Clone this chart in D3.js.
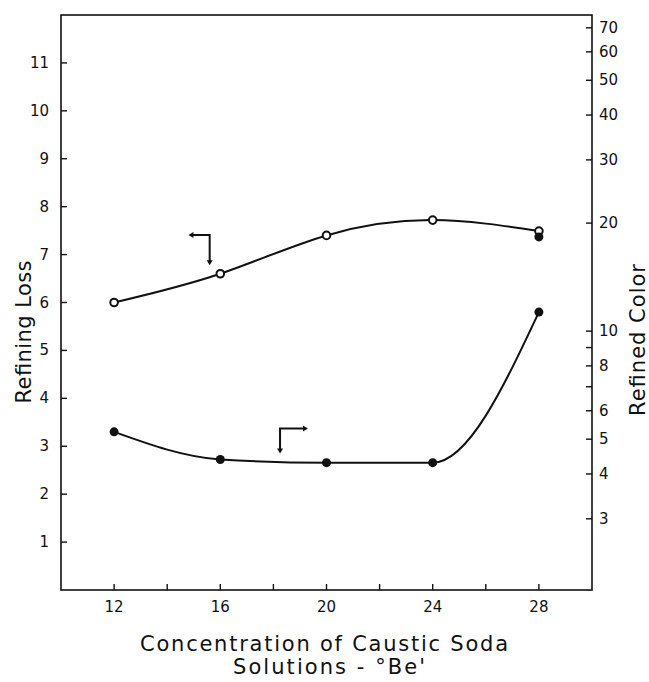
<!DOCTYPE html>
<head>
    <meta charset="utf-8">
    <script src="https://cdn.jsdelivr.net/npm/d3@7"></script>
</head>
<style>
    body { margin: 0; background: #fff; }
    svg text { font-family: "DejaVu Sans", sans-serif; fill: #111; }
    .tick-label { font-size: 15px; }
    .title { font-size: 21px; }
    .domain-line { stroke: #111; stroke-width: 1.6px; fill: none; }
    .tick { stroke: #111; stroke-width: 1.4px; }
    .curve { fill: none; stroke: #111; stroke-width: 2px; }
</style>
<body>
<svg id="chart" width="649" height="682"></svg>
<script>

    // concentration of caustic soda, °Be'
    var concentration = [12, 16, 20, 24, 28];
    // refining loss (left axis, open circles)
    var refiningLoss = [6.0, 6.6, 7.4, 7.72, 7.49];
    // refined color (right axis, log, filled circles)
    var refinedColor = [5.24, 4.39, 4.3, 4.3, 11.3];
    // stray filled dot printed just under the last open circle
    var extraColor = [{x: 28, y: 18.3}];

    var xTicks = [12, 14, 16, 18, 20, 22, 24, 26, 28];
    var xLabels = [12, 16, 20, 24, 28];
    var leftTicks = [1, 2, 3, 4, 5, 6, 7, 8, 9, 10, 11];
    var rightTicks = [3, 4, 5, 6, 7, 8, 9, 10, 20, 30, 40, 50, 60, 70];
    var rightLabels = [3, 4, 5, 6, 8, 10, 20, 30, 40, 50, 60, 70];

    var svg = d3.select("#chart");
    var margin = {left: 61, right: 57, top: 15, bottom: 92};
    var W = 649, H = 682;

    var x = d3.scaleLinear().domain([10, 30]).range([margin.left, W - margin.right]);
    var yL = d3.scaleLinear().domain([0, 12]).range([H - margin.bottom, margin.top]);
    var yR = d3.scaleLog().domain([1.9, 76]).range([H - margin.bottom, margin.top]);

    var x0 = x.range()[0], x1 = x.range()[1];
    var y0 = yL.range()[0], y1 = yL.range()[1];

    // frame
    svg.append("rect")
        .attr("class", "domain-line")
        .attr("x", x0).attr("y", y1)
        .attr("width", x1 - x0).attr("height", y0 - y1);

    // bottom ticks (inward)
    svg.selectAll(".xt").data(xTicks).enter().append("line")
        .attr("class", "tick")
        .attr("x1", x).attr("x2", x)
        .attr("y1", y0).attr("y2", y0 - 6);
    svg.selectAll(".xl").data(xLabels).enter().append("text")
        .attr("class", "tick-label")
        .attr("x", x).attr("y", y0 + 22)
        .attr("text-anchor", "middle")
        .text(function (d) { return d; });

    // left ticks
    svg.selectAll(".lt").data(leftTicks).enter().append("line")
        .attr("class", "tick")
        .attr("x1", x0).attr("x2", x0 + 6)
        .attr("y1", yL).attr("y2", yL);
    svg.selectAll(".ll").data(leftTicks).enter().append("text")
        .attr("class", "tick-label")
        .attr("x", x0 - 12).attr("y", function (d) { return yL(d) + 5; })
        .attr("text-anchor", "end")
        .text(function (d) { return d; });

    // right ticks (log)
    svg.selectAll(".rt").data(rightTicks).enter().append("line")
        .attr("class", "tick")
        .attr("x1", x1).attr("x2", x1 - 6)
        .attr("y1", yR).attr("y2", yR);
    svg.selectAll(".rl").data(rightLabels).enter().append("text")
        .attr("class", "tick-label")
        .attr("x", x1 + 7).attr("y", function (d) { return yR(d) + 5; })
        .attr("text-anchor", "start")
        .text(function (d) { return d; });

    // curves
    var lossPts = concentration.map(function (c, i) { return [x(c), yL(refiningLoss[i])]; });
    var colorPts = concentration.map(function (c, i) { return [x(c), yR(refinedColor[i])]; });

    svg.append("path").attr("class", "curve")
        .attr("d", d3.line().curve(d3.curveNatural)(lossPts));
    svg.append("path").attr("class", "curve")
        .attr("d", d3.line().curve(d3.curveMonotoneX)(colorPts));

    svg.selectAll(".open").data(lossPts).enter().append("circle")
        .attr("cx", function (d) { return d[0]; })
        .attr("cy", function (d) { return d[1]; })
        .attr("r", 3.8)
        .attr("fill", "#fff").attr("stroke", "#111").attr("stroke-width", 2);

    svg.selectAll(".filled").data(colorPts.concat(extraColor.map(function (d) { return [x(d.x), yR(d.y)]; })))
        .enter().append("circle")
        .attr("cx", function (d) { return d[0]; })
        .attr("cy", function (d) { return d[1]; })
        .attr("r", 4.5)
        .attr("fill", "#111");

    // axis-pointer arrows
    function arrowHead(px, py, dir) {
        var s = 5, pts;
        if (dir === "left") pts = [[px, py], [px + s, py - s * 0.6], [px + s, py + s * 0.6]];
        if (dir === "right") pts = [[px, py], [px - s, py - s * 0.6], [px - s, py + s * 0.6]];
        if (dir === "down") pts = [[px, py], [px - s * 0.6, py - s], [px + s * 0.6, py - s]];
        svg.append("polygon").attr("points", pts.join(" ")).attr("fill", "#111");
    }

    var a1 = {xa: 14.8, xb: 15.6, ya: 7.41, yb: 6.78};
    svg.append("path").attr("class", "curve").attr("stroke-width", 1.6)
        .attr("d", d3.line()([[x(a1.xa) + 3, yL(a1.ya)], [x(a1.xb), yL(a1.ya)], [x(a1.xb), yL(a1.yb) - 3]]));
    arrowHead(x(a1.xa), yL(a1.ya), "left");
    arrowHead(x(a1.xb), yL(a1.yb), "down");

    var a2 = {xa: 18.25, xb: 19.3, ya: 3.37, yb: 2.85};
    svg.append("path").attr("class", "curve").attr("stroke-width", 1.6)
        .attr("d", d3.line()([[x(a2.xa), yL(a2.yb) - 3], [x(a2.xa), yL(a2.ya)], [x(a2.xb) - 3, yL(a2.ya)]]));
    arrowHead(x(a2.xb), yL(a2.ya), "right");
    arrowHead(x(a2.xa), yL(a2.yb), "down");

    // titles (stretched to the printed widths)
    function title(tx, ty, rot, str, len) {
        svg.append("text").attr("class", "title")
            .attr("transform", "translate(" + tx + "," + ty + ")" + (rot ? " rotate(-90)" : ""))
            .attr("text-anchor", "middle")
            .attr("textLength", len)
            .attr("lengthAdjust", "spacing")
            .text(str);
    }
    title(31, 332, true, "Refining Loss", 143);
    title(645, 340, true, "Refined Color", 152);
    title(324, 651, false, "Concentration of Caustic Soda", 368);
    title(329, 674, false, "Solutions -  °Be'", 192);
</script>
</body>
